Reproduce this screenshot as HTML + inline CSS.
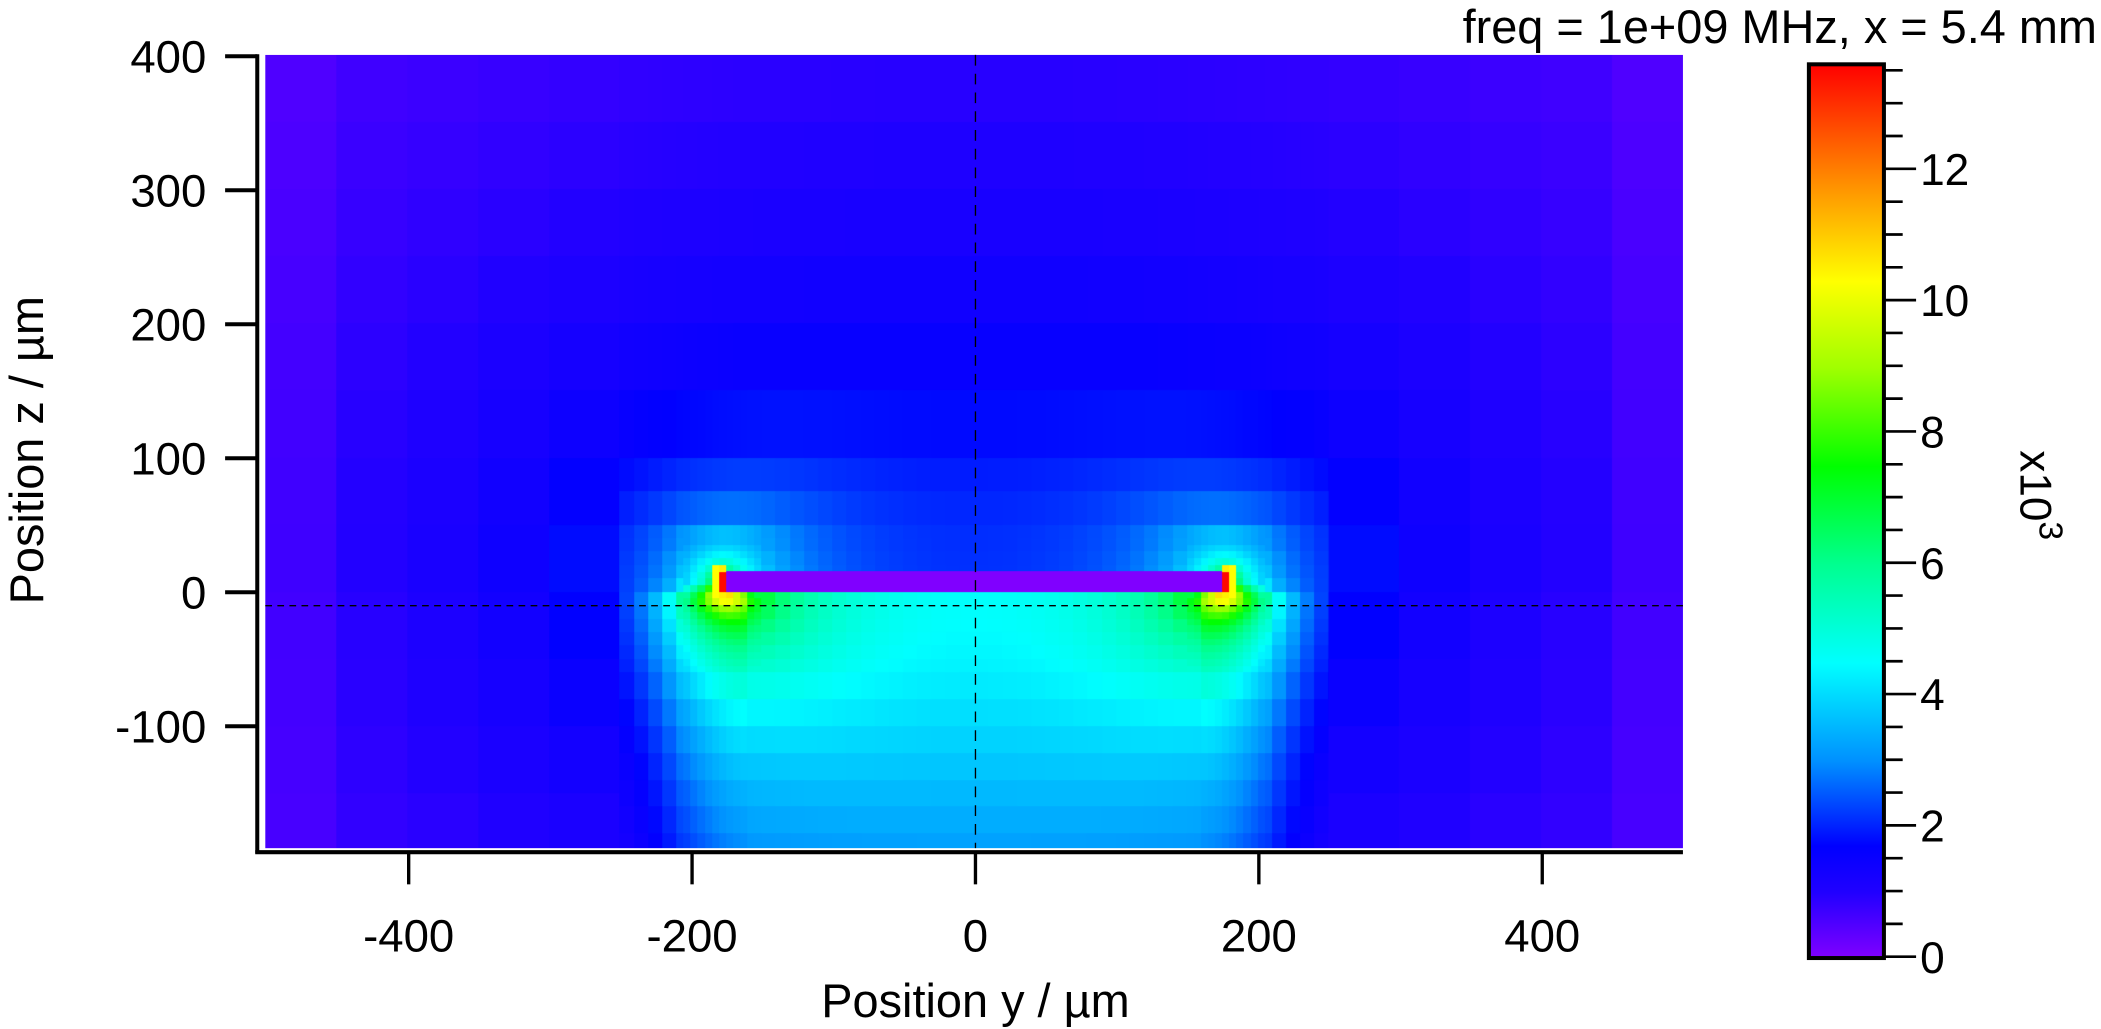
<!DOCTYPE html>
<html><head><meta charset="utf-8"><style>
html,body{margin:0;padding:0;background:#fff;overflow:hidden}
#wrap{position:absolute;left:0;top:0;width:1568px;height:768px;transform:scale(1.33992);transform-origin:0 0}
canvas{position:absolute;left:198px;top:41px;width:1058px;height:592px}
svg{position:absolute;left:0;top:0}
text{font-family:"Liberation Sans",Arial,sans-serif;fill:#000}
</style></head><body>
<div id="wrap">
<canvas id="c" width="1418" height="793"></canvas>
<svg width="1568" height="768" viewBox="0 0 1568 768">
<defs>
<linearGradient id="g" x1="0" y1="1" x2="0" y2="0">
<stop offset="0" stop-color="#8000ff"/>
<stop offset="0.074" stop-color="#2000ff"/>
<stop offset="0.125" stop-color="#0000ff"/>
<stop offset="0.22" stop-color="#0090ff"/>
<stop offset="0.33" stop-color="#00ffff"/>
<stop offset="0.44" stop-color="#00ff90"/>
<stop offset="0.55" stop-color="#00ff00"/>
<stop offset="0.66" stop-color="#a0ff00"/>
<stop offset="0.757" stop-color="#ffff00"/>
<stop offset="0.85" stop-color="#ffa000"/>
<stop offset="1" stop-color="#ff0000"/>
</linearGradient>
</defs>
<line x1="198" y1="452" x2="1256" y2="452" stroke="#000" stroke-width="1" stroke-dasharray="5,4"/>
<line x1="728" y1="41" x2="728" y2="633" stroke="#000" stroke-width="1" stroke-dasharray="8,6"/>
<line x1="192" y1="40.5" x2="192" y2="637" stroke="#000" stroke-width="3"/>
<line x1="190.5" y1="636" x2="1256" y2="636" stroke="#000" stroke-width="3"/>
<g stroke="#000" stroke-width="3">
<line x1="168" y1="42" x2="192" y2="42"/><line x1="168" y1="142" x2="192" y2="142"/>
<line x1="168" y1="242" x2="192" y2="242"/><line x1="168" y1="342" x2="192" y2="342"/>
<line x1="168" y1="442" x2="192" y2="442"/><line x1="168" y1="542" x2="192" y2="542"/>
</g>
<g stroke="#000" stroke-width="2.5">
<line x1="305" y1="636" x2="305" y2="660"/><line x1="516.5" y1="636" x2="516.5" y2="660"/>
<line x1="728" y1="636" x2="728" y2="660"/><line x1="939.5" y1="636" x2="939.5" y2="660"/>
<line x1="1151" y1="636" x2="1151" y2="660"/>
</g>
<g font-size="34" text-anchor="end">
<text x="154" y="54">400</text><text x="154" y="154">300</text><text x="154" y="254">200</text>
<text x="154" y="354">100</text><text x="154" y="454">0</text><text x="154" y="554">-100</text>
</g>
<g font-size="34" text-anchor="middle">
<text x="305" y="710">-400</text><text x="516.5" y="710">-200</text><text x="728" y="710">0</text>
<text x="939.5" y="710">200</text><text x="1151" y="710">400</text>
</g>
<text x="728" y="759" font-size="35" text-anchor="middle">Position y / µm</text>
<text transform="translate(32,336) rotate(-90)" font-size="35" text-anchor="middle">Position z / µm</text>
<text x="1565" y="32" font-size="35" text-anchor="end">freq = 1e+09 MHz, x = 5.4 mm</text>
<rect x="1350" y="48" width="56" height="667" fill="url(#g)" stroke="#000" stroke-width="3"/>
<g id="cbt" stroke="#000" stroke-width="2"></g>
<g font-size="33">
<text x="1433" y="726">0</text><text x="1433" y="628">2</text><text x="1433" y="530">4</text>
<text x="1433" y="432">6</text><text x="1433" y="334">8</text><text x="1433" y="236">10</text>
<text x="1433" y="138">12</text>
</g>
<text transform="translate(1508,336) rotate(90)" font-size="33">x10<tspan dy="-14" font-size="25">3</tspan></text>
</svg>
</div>
<script>
(function(){
var g=document.getElementById('cbt'),s='';
for(var i=0;i<=27;i++){var v=i*0.5,y=714-v*49;var L=(i%4==0)?24:14;
s+='<line x1="1406" y1="'+y+'" x2="'+(1406+L)+'" y2="'+y+'"/>';}
g.innerHTML=s;
var stops=[[0,[128,0,255]],[1,[32,0,255]],[1.7,[0,0,255]],[3,[0,144,255]],[4.5,[0,255,255]],[6,[0,255,144]],[7.5,[0,255,0]],[9,[160,255,0]],[10.3,[255,255,0]],[11.5,[255,160,0]],[13.6,[255,0,0]]];
function col(v){if(v<=0)return stops[0][1];if(v>=13.6)return stops[stops.length-1][1];
for(var i=1;i<stops.length;i++){if(v<=stops[i][0]){var a=stops[i-1],b=stops[i],t=(v-a[0])/(b[0]-a[0]);
return [a[1][0]+(b[1][0]-a[1][0])*t,a[1][1]+(b[1][1]-a[1][1])*t,a[1][2]+(b[1][2]-a[1][2])*t];}}}
var A=178;
function taper(ay){if(ay<160)return 1;if(ay>262)return 0;return 0.5*(1+Math.cos(Math.PI*(ay-160)/102));}
function field(y,z){
 var ay=Math.abs(y);
 if(ay>=175&&ay<180&&z>-6&&z<22){ if(z<0||z>15) return 10.5; return 13.5; }
 if(ay>=180&&ay<185&&z>-6&&z<20){ return 10.3; }
 var zc=z-7;var re=y*y-zc*zc-A*A,im=2*y*zc;var m=Math.sqrt(Math.sqrt(re*re+im*im));
 var K;
 if(z>=7){K=380;}else{K=360+480*taper(ay);
  if(z>-5){var t=(z+5)/12;K=K*(1-t)+380*t;} }
 var v=K/Math.max(m,1);
 if(z<0&&ay<160)v=v*0.85+0.55;
 if(v>4.5)v=4.5+(v-4.5)*0.85;
 if(ay>440)v*=0.8;
 return v;}
function qy(y){var ay=Math.abs(y),c;
 if(ay>250)c=50;else if(ay>150&&ay<205)c=5;else c=10;
 return (Math.floor(y/c)+0.5)*c;}
function qz(z,y){var c;var ay=Math.abs(y);
 if(ay>250)c=50;else if(z>100)c=50;else if(z>40)c=25;else if(z>-60)c=(ay>150&&ay<205?5:10);else c=20;
 return (Math.floor(z/c)+0.5)*c;}
var cv=document.getElementById('c'),ctx=cv.getContext('2d'),W=cv.width,H=cv.height;
var img=ctx.createImageData(W,H),d=img.data;
for(var py=0;py<H;py++){var z=400-(py+0.5)/H*591;
 for(var px=0;px<W;px++){var y=-500+(px+0.5)/W*1000;var k=(py*W+px)*4;var c;
  if(Math.abs(y)<=175&&z>=0&&z<=15.5){c=[128,0,255];}
  else{var yy=qy(y),zz=qz(z,y);if(yy>-175&&yy<175&&zz>0&&zz<15)zz=-3;c=col(field(yy,zz));}
  d[k]=c[0];d[k+1]=c[1];d[k+2]=c[2];d[k+3]=255;}}
ctx.putImageData(img,0,0);
})();
</script>
</body></html>
